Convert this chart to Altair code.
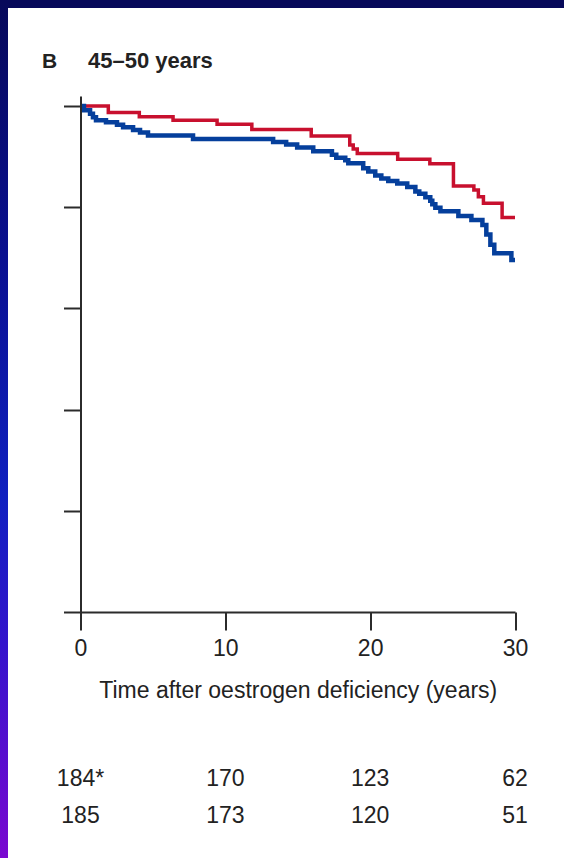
import altair as alt
import pandas as pd

# Kaplan-Meier curves (time in years, survival proportion)
red_t = [0, 1.92, 4.06, 6.39, 9.43, 11.83, 15.93, 18.59, 18.83, 19.11, 21.9, 24.12, 25.75, 27.16, 27.47, 27.82, 29.11, 30]
red_s = [1.0, 0.9875, 0.979, 0.972, 0.964, 0.954, 0.941, 0.923, 0.915, 0.9065, 0.895, 0.886, 0.842, 0.834, 0.821, 0.808, 0.780, 0.780]

blue_t = [0, 0.24, 0.66, 0.86, 1.07, 1.76, 2.52, 2.94, 3.63, 4.11, 4.66, 7.77, 13.30, 14.20, 14.96, 16.07,
          17.36, 17.66, 18.28, 18.49, 19.52, 19.87, 20.35, 20.77, 21.25, 21.87, 22.56, 23.12, 23.39, 23.81,
          24.15, 24.29, 24.50, 24.85, 26.09, 26.99, 27.75, 28.02, 28.30, 28.57, 29.75, 30]
blue_s = [1.0, 0.992, 0.985, 0.978, 0.972, 0.968, 0.963, 0.958, 0.953, 0.948, 0.942, 0.935, 0.929, 0.924, 0.918, 0.911,
          0.904, 0.898, 0.893, 0.887, 0.877, 0.871, 0.863, 0.857, 0.852, 0.847, 0.840, 0.831, 0.827, 0.820,
          0.813, 0.806, 0.799, 0.792, 0.783, 0.775, 0.765, 0.746, 0.726, 0.709, 0.696, 0.696]

# Numbers at risk
risk_times = [0, 10, 20, 30]
risk_row1 = ["184*", "170", "123", "62"]
risk_row2 = ["185", "173", "120", "51"]

x_ticks = [0, 10, 20, 30]
y_ticks = [0, 0.2, 0.4, 0.6, 0.8, 1.0]

FONT = "Liberation Sans Narrow, Liberation Sans, sans-serif"
AXC = "#2b2b2b"

red_df = pd.DataFrame({"t": red_t, "s": red_s})
blue_df = pd.DataFrame({"t": blue_t, "s": blue_s})
risk1_df = pd.DataFrame({"t": risk_times, "n": risk_row1})
risk2_df = pd.DataFrame({"t": risk_times, "n": risk_row2})
one = pd.DataFrame({"k": [0]})

xs = alt.Scale(domain=[0, 30], nice=False, zero=False)
ys = alt.Scale(domain=[0, 1.02], nice=False, zero=False)

# decorative frame: white page with a gradient strip on the left
grad = alt.Gradient(
    gradient="linear",
    stops=[
        alt.GradientStop(color="#07095a", offset=0),
        alt.GradientStop(color="#0a1090", offset=0.3),
        alt.GradientStop(color="#1020c0", offset=0.58),
        alt.GradientStop(color="#3414cc", offset=0.75),
        alt.GradientStop(color="#7a08d0", offset=1),
    ],
    x1=0, x2=0, y1=0, y2=1,
)
page = alt.Chart(one).mark_rect(color="white").encode(
    x=alt.value(-72.5), x2=alt.value(483.5), y=alt.value(-88), y2=alt.value(762)
)
strip = alt.Chart(one).mark_rect(color=grad).encode(
    x=alt.value(-80.5), x2=alt.value(-72.5), y=alt.value(-96), y2=alt.value(762)
)

base_x = alt.X(
    "t:Q", scale=xs,
    axis=alt.Axis(
        values=x_ticks, title="Time after oestrogen deficiency (years)",
        domainColor=AXC, domainWidth=2, tickColor=AXC, tickWidth=2, tickSize=18,
        labelFont=FONT, labelFontSize=23, labelColor="#222", labelPadding=7, labelFlush=False,
        titleFont=FONT, titleFontSize=23, titleFontWeight="normal", titleColor="#222", titlePadding=19,
        grid=False, zindex=1,
    ),
)
base_y = alt.Y(
    "s:Q", scale=ys,
    axis=alt.Axis(
        values=y_ticks, labels=False, title=None,
        domainColor=AXC, domainWidth=2, tickColor=AXC, tickWidth=2, tickSize=17,
        grid=False, zindex=1,
    ),
)

red = alt.Chart(red_df).mark_line(interpolate="step-after", color="#c8102e", strokeWidth=3.5).encode(
    x=base_x, y=base_y
)
blue = alt.Chart(blue_df).mark_line(interpolate="step-after", color="#053f9c", strokeWidth=4.5).encode(
    x=alt.X("t:Q", scale=xs), y=alt.Y("s:Q", scale=ys)
)

row1 = alt.Chart(risk1_df).mark_text(font=FONT, fontSize=23, color="#222", align="center", baseline="middle").encode(
    x=alt.X("t:Q", scale=xs), y=alt.value(683), text="n:N"
)
row2 = alt.Chart(risk2_df).mark_text(font=FONT, fontSize=23, color="#222", align="center", baseline="middle").encode(
    x=alt.X("t:Q", scale=xs), y=alt.value(720), text="n:N"
)

title_b = alt.Chart(one).mark_text(text="B", font=FONT, fontSize=21, fontWeight="bold", color="#222",
                                   align="left", baseline="alphabetic").encode(
    x=alt.value(-38.5), y=alt.value(-28)
)
title_t = alt.Chart(one).mark_text(text="45–50 years", font=FONT, fontSize=22, fontWeight="bold", color="#222",
                                   align="left", baseline="alphabetic").encode(
    x=alt.value(7.5), y=alt.value(-28)
)

chart = alt.layer(page, strip, red, blue, row1, row2, title_b, title_t).properties(
    width=434.5, height=516,
    autosize=alt.AutoSizeParams(type="none"),
    padding={"left": 80.5, "top": 96, "right": 49, "bottom": 246},
    background="#07095a",
).configure_view(stroke=None)

chart.save("out.html", embed_options={"renderer": "svg", "actions": False})
